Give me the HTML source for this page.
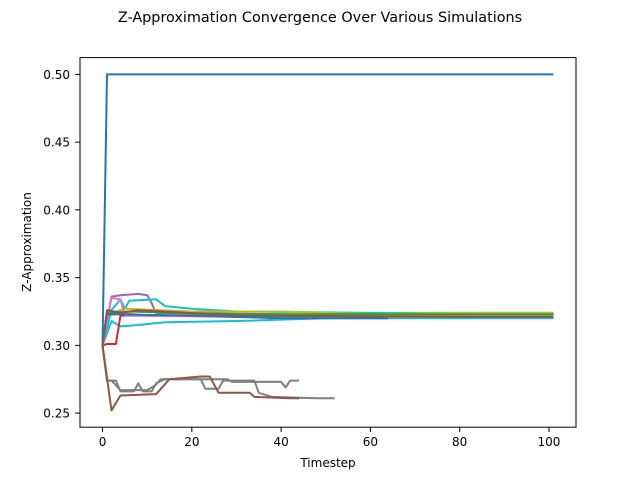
<!DOCTYPE html>
<html><head><meta charset="utf-8"><style>
body{margin:0;background:#fff;}
svg{display:block;font-family:"DejaVu Sans","Liberation Sans",sans-serif;}
</style></head><body>
<svg id="chart" width="640" height="480" xmlns="http://www.w3.org/2000/svg">
<rect width="640" height="480" fill="#fff"/>
<text x="320" y="22" text-anchor="middle" font-size="14.4">Z-Approximation Convergence Over Various Simulations</text>
<g id="plot"></g>
<rect x="80" y="57.6" width="496" height="369.6" fill="none" stroke="#000" stroke-width="1"/>
<g id="axes" font-size="12"></g>
<text x="328" y="467" text-anchor="middle" font-size="12">Timestep</text>
<text transform="translate(31,242) rotate(-90)" text-anchor="middle" font-size="12">Z-Approximation</text>
</svg>
<script>
const xTicks=[0,20,40,60,80,100];
const yTicks=[0.25,0.30,0.35,0.40,0.45,0.50];
const yTickLabels=["0.25","0.30","0.35","0.40","0.45","0.50"];
const seriesColors=["#1f77b4","#7f7f7f","#7f7f7f","#8c564b","#9467bd","#17becf","#17becf","#d62728","#ff7f0e","#bcbd22","#e377c2","#2ca02c","#1f77b4","#8c564b"];
const seriesNames=["sim-1","sim-2","sim-3","sim-4","sim-5","sim-6","sim-7","sim-8","sim-9","sim-10","sim-11","sim-12","sim-13","sim-14"];
const sBlue=[[0,0.30],[1,0.50],[101,0.50]];
const sGray1=[[0,0.30],[1,0.274],[3,0.274],[4,0.266],[7,0.266],[8,0.272],[9,0.266],[11,0.266],[12,0.272],[14,0.275],[28,0.275],[29,0.273],[40,0.273],[41,0.269],[42,0.274],[44,0.274]];
const sGray2=[[0,0.30],[1,0.274],[2,0.274],[4,0.267],[10,0.267],[12,0.271],[13,0.275],[22,0.275],[23,0.268],[26,0.268],[27,0.274],[34,0.274],[35,0.265],[38,0.262],[48,0.261],[52,0.261]];
const sBrown=[[0,0.30],[2,0.252],[4,0.263],[12,0.264],[15,0.275],[22,0.277],[24,0.277],[26,0.265],[33,0.265],[34,0.262],[42,0.261],[44,0.261]];
const sPurple=[[0,0.30],[2,0.336],[4,0.337],[8,0.338],[10,0.337],[11,0.331],[12,0.324],[40,0.323],[60,0.322],[101,0.322]];
const sCyan1=[[0,0.30],[2,0.326],[4,0.334],[5,0.327],[6,0.333],[12,0.334],[14,0.329],[20,0.327],[30,0.325],[60,0.324],[101,0.324]];
const sCyan2=[[0,0.30],[2,0.318],[4,0.314],[8,0.315],[14,0.317],[30,0.318],[50,0.320],[101,0.320]];
const sRed=[[0,0.30],[1,0.301],[3,0.301],[4,0.322],[40,0.322],[101,0.322]];
const sOrange=[[0,0.30],[1,0.325],[10,0.322],[30,0.323],[45,0.321],[60,0.322],[101,0.322]];
const sOlive=[[0,0.30],[1,0.323],[5,0.327],[20,0.325],[40,0.325],[60,0.323],[80,0.324],[101,0.324]];
const sPink=[[0,0.30],[2,0.335],[4,0.334],[5,0.322],[30,0.321],[70,0.321],[101,0.322]];
const sGreen=[[0,0.30],[1,0.324],[6,0.325],[30,0.323],[101,0.323]];
const sDkBlue=[[0,0.30],[1,0.323],[20,0.322],[40,0.320],[64,0.320]];
const sBrown2=[[0,0.30],[1,0.326],[4,0.324],[8,0.326],[30,0.322],[80,0.321],[101,0.321]];
const allSeries=[sBlue,sGray1,sGray2,sBrown,sPurple,sCyan1,sCyan2,sRed,sOrange,sOlive,sPink,sGreen,sDkBlue,sBrown2];
const L=80,R=576,T=57.6,B=427.2,xmin=-5.05,xmax=106.05,ymin=0.2396,ymax=0.5124;
const xs=v=>L+(v-xmin)/(xmax-xmin)*(R-L);
const ys=v=>B-(v-ymin)/(ymax-ymin)*(B-T);
const NS="http://www.w3.org/2000/svg";
const plot=document.getElementById('plot');
allSeries.forEach((s,i)=>{
  const p=document.createElementNS(NS,'polyline');
  p.setAttribute('points',s.map(d=>xs(d[0]).toFixed(1)+','+ys(d[1]).toFixed(1)).join(' '));
  p.setAttribute('fill','none');p.setAttribute('stroke',seriesColors[i]);p.setAttribute('stroke-width','2');
  p.setAttribute('stroke-linejoin','round');
  
  
  plot.appendChild(p);
});
const ax=document.getElementById('axes');
xTicks.forEach(t=>{
  const l=document.createElementNS(NS,'line');
  l.setAttribute('x1',xs(t));l.setAttribute('x2',xs(t));l.setAttribute('y1',B);l.setAttribute('y2',B+4.9);l.setAttribute('stroke','#000');
  
  
  ax.appendChild(l);
  const tx=document.createElementNS(NS,'text');
  tx.setAttribute('x',xs(t));tx.setAttribute('y',B+19);tx.setAttribute('text-anchor','middle');tx.textContent=t;
  
  
  ax.appendChild(tx);
});
yTicks.forEach((t,i)=>{
  const l=document.createElementNS(NS,'line');
  l.setAttribute('x1',L-4.9);l.setAttribute('x2',L);l.setAttribute('y1',ys(t));l.setAttribute('y2',ys(t));l.setAttribute('stroke','#000');
  
  
  ax.appendChild(l);
  const tx=document.createElementNS(NS,'text');
  tx.setAttribute('x',L-10);tx.setAttribute('y',ys(t)+4.5);tx.setAttribute('text-anchor','end');tx.textContent=yTickLabels[i];
  
  
  ax.appendChild(tx);
});
</script>
</body></html>
